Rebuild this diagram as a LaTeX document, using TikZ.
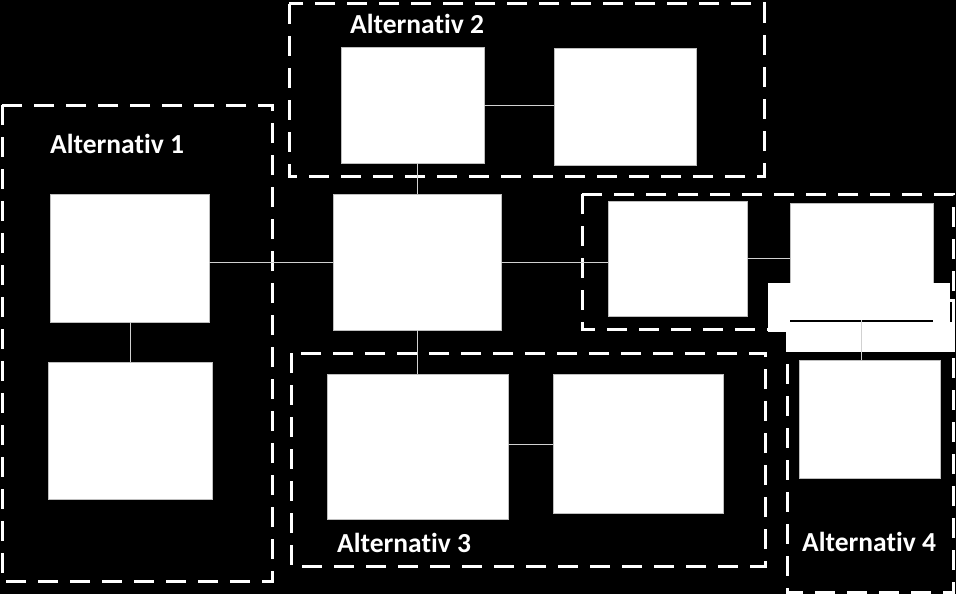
\documentclass[tikz,border=0pt]{standalone}
\usepackage{fontspec}
\setmainfont{Carlito}[RawFeature=-liga]
\usepackage{tikz}
\usetikzlibrary{positioning}

\begin{document}
\begin{tikzpicture}[
			x=1pt,y=-1pt,
			blk/.style={
				draw=black!25,
				fill=white,
				line width=0.8pt,
				inner sep=0pt
			},
			grp/.style={draw=white,line width=3pt,dash pattern=on 20pt off 12pt},
			lbl/.style={text=white,font=\fontsize{27.5}{31}\selectfont\bfseries,anchor=base west,inner sep=0pt},
			link/.style={draw=black!18,line width=1pt}
			]
			
			\useasboundingbox (0,0) rectangle (956,594);
			\fill[black] (0,0) rectangle (956,594);
			
			% dashed groups
			\draw[grp] (2,105) rectangle (272,581);
			\draw[grp] (289,4) rectangle (764,176);
			\draw[grp] (291,353) rectangle (765,566);
			\draw[grp] (582,194) rectangle (953,329);
			\draw[grp] (787,300) rectangle (953,592);
			
			\node[lbl] (t1) at (50,153) {Alternativ 1};
			\node[lbl] (t2) at (350,34) {Alternativ 2};
			\node[lbl] (t3) at (337,552) {Alternativ 3};
			\node[lbl] (t4) at (802,551) {Alternativ 4};
			
			\node[blk,minimum width=168pt,minimum height=136pt] (hub) at (417,262) {};
			\node[blk,minimum width=159pt,minimum height=128pt] (oneA) at (129.5,258) {};
			\node[blk,minimum width=164pt,minimum height=137pt] (oneB) at (130,430.5) {};
			\node[blk,minimum width=143pt,minimum height=116pt] (twoA) at (412.5,105) {};
			\node[blk,minimum width=142pt,minimum height=117pt] (twoB) at (625,106.5) {};
			\node[blk,minimum width=181pt,minimum height=145pt] (threeA) at (417.5,446.5) {};
			\node[blk,minimum width=170pt,minimum height=139pt] (threeB) at (638,443.5) {};
			\node[blk,minimum width=139pt,minimum height=115pt] (fourA) at (677.5,258.5) {};
			\node[blk,minimum width=143pt,minimum height=117pt] (fourB) at (861.5,261.5) {};
			\node[blk,minimum width=141pt,minimum height=118pt] (fourC) at (869.5,419) {};
			
			% white bars over fourB
			\fill[white] (768,283) rectangle (950,332);
			\fill[white] (787,322) rectangle (955,352);
			\draw[black,line width=2pt] (790,321) -- (933,321);
			
			\draw[link] (hub.west) -- (hub.west -| oneA.east);
			\draw[link] (oneA.south -| oneB.north) -- (oneB.north);
			\draw[link] (hub.north) -- (hub.north |- twoA.south);
			\draw[link] (twoA.east |- twoA) -- (twoA -| twoB.west);
			\draw[link] (hub.south) -- (hub.south |- threeA.north);
			\draw[link] (threeA.east |- 0,444) -- (threeB.west |- 0,444);
			\draw[link] (hub.east) -- (hub.east -| fourA.west);
			\draw[link] (fourA) -- (fourA -| fourB.west);
			\draw[link] (fourB.south) -- (fourB.south |- fourC.north);
			
		\end{tikzpicture}
\end{document}
